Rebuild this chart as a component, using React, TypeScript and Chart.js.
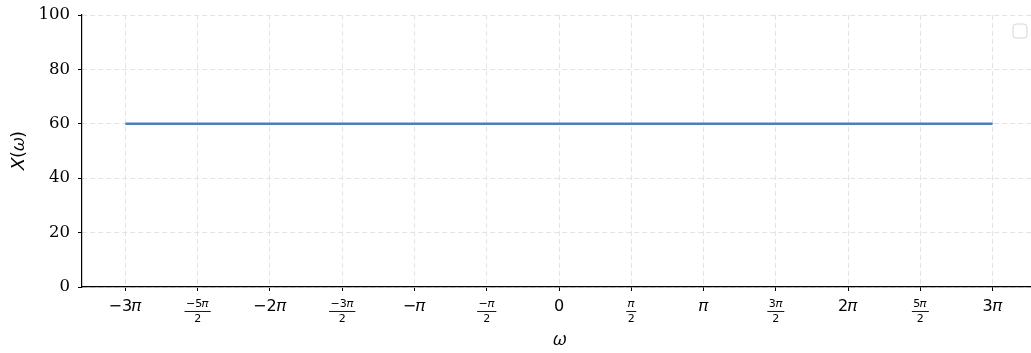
import { useEffect, useRef } from "react";
import { Chart, registerables } from "chart.js";

Chart.register(...registerables);

const PI = Math.PI;
// x tick positions, in multiples of pi/2
const halfSteps = [-6, -5, -4, -3, -2, -1, 0, 1, 2, 3, 4, 5, 6];
const tickLabels: (string | string[])[] = [
  "−3𝜋",
  ["−5𝜋", "2"],
  "−2𝜋",
  ["−3𝜋", "2"],
  "−𝜋",
  ["−𝜋", "2"],
  "0",
  ["𝜋", "2"],
  "𝜋",
  ["3𝜋", "2"],
  "2𝜋",
  ["5𝜋", "2"],
  "3𝜋",
];
const lineX = [-3 * PI, 3 * PI];
const lineY = [60, 60];
const yTicks = [0, 20, 40, 60, 80, 100];

const xMin = -3.3 * PI;
const xMax = 3.3 * PI;

const SANS = "'DejaVu Sans', sans-serif";
const SERIF = "'DejaVu Serif', serif";
const FRAC_SIZE = 11;

const extrasPlugin = {
  id: "extras",
  afterDraw(chart: any) {
    const ctx = chart.ctx as CanvasRenderingContext2D;
    const xs = chart.scales.x;
    ctx.save();
    // fraction bars
    ctx.font = `${FRAC_SIZE}px ${SANS}`;
    ctx.strokeStyle = "#000";
    ctx.lineWidth = 0.9;
    halfSteps.forEach((h, i) => {
      const lab = tickLabels[i];
      if (!Array.isArray(lab)) return;
      const px = xs.getPixelForValue((h * PI) / 2);
      const w = Math.max(ctx.measureText(lab[0]).width, ctx.measureText(lab[1]).width) + 3;
      ctx.beginPath();
      ctx.moveTo(px - w / 2, 311.5);
      ctx.lineTo(px + w / 2, 311.5);
      ctx.stroke();
    });
    // empty legend frame
    const x = 1013, y = 24, w = 14, h = 14, r = 3;
    ctx.beginPath();
    ctx.moveTo(x + r, y);
    ctx.lineTo(x + w - r, y);
    ctx.quadraticCurveTo(x + w, y, x + w, y + r);
    ctx.lineTo(x + w, y + h - r);
    ctx.quadraticCurveTo(x + w, y + h, x + w - r, y + h);
    ctx.lineTo(x + r, y + h);
    ctx.quadraticCurveTo(x, y + h, x, y + h - r);
    ctx.lineTo(x, y + r);
    ctx.quadraticCurveTo(x, y, x + r, y);
    ctx.closePath();
    ctx.fillStyle = "rgba(255,255,255,0.8)";
    ctx.fill();
    ctx.strokeStyle = "#d6d6d6";
    ctx.lineWidth = 1;
    ctx.stroke();
    ctx.restore();
  },
};

export default function App() {
  const ref = useRef<HTMLCanvasElement | null>(null);

  useEffect(() => {
    if (!ref.current) return;
    const chart = new Chart(ref.current, {
      type: "line",
      data: {
        datasets: [
          {
            label: "",
            data: lineX.map((x, i) => ({ x, y: lineY[i] })),
            borderColor: "#4a80b5",
            borderWidth: 2.6,
            pointRadius: 0,
            fill: false,
          },
        ],
      },
      options: {
        responsive: false,
        animation: false,
        layout: { padding: { top: 15, right: 0, left: 0, bottom: 0 } },
        plugins: { legend: { display: false }, tooltip: { enabled: false } },
        scales: {
          x: {
            type: "linear",
            min: xMin,
            max: xMax,
            afterBuildTicks: (scale: any) => {
              scale.ticks = halfSteps.map((h) => ({ value: (h * PI) / 2 }));
            },
            afterFit: (scale: any) => {
              scale.height = 66;
              scale.paddingLeft = 0;
              scale.paddingRight = 0;
            },
            ticks: {
              autoSkip: false,
              maxRotation: 0,
              padding: 6,
              color: "#000",
              callback: (_v: any, i: number) => tickLabels[i],
              font: (c: any) =>
                Array.isArray(tickLabels[c.index])
                  ? { family: SANS, size: FRAC_SIZE, lineHeight: "15px" }
                  : { family: SANS, size: 16, lineHeight: 1.2 },
            },
            grid: {
              color: "#e3e3e3",
              lineWidth: 1,
              drawTicks: true,
              tickLength: 4,
              tickColor: "#000",
              tickBorderDash: [],
              tickWidth: 1,
            },
            border: { display: true, color: "#000", width: 1.2, dash: [5, 3] },
            title: {
              display: true,
              text: "𝜔",
              color: "#000",
              font: { family: SANS, size: 18, lineHeight: 1.2 },
              padding: { top: 0, bottom: 2 },
            },
          },
          y: {
            type: "linear",
            min: 0,
            max: 100,
            afterBuildTicks: (scale: any) => {
              scale.ticks = yTicks.map((v) => ({ value: v }));
            },
            afterFit: (scale: any) => {
              scale.width = 82;
              scale.paddingTop = 0;
              scale.paddingBottom = 0;
            },
            ticks: {
              padding: 8,
              color: "#000",
              font: { family: SERIF, size: 16.5 },
            },
            grid: {
              color: "#e3e3e3",
              lineWidth: 1,
              drawTicks: true,
              tickLength: 4,
              tickColor: "#000",
              tickBorderDash: [],
              tickWidth: 1,
            },
            border: { display: true, color: "#000", width: 1.2, dash: [5, 3] },
            title: {
              display: true,
              text: "𝑋(𝜔)",
              color: "#000",
              font: { family: SANS, size: 18, lineHeight: 1.2 },
              padding: { top: 9, bottom: 0 },
            },
          },
        },
      },
      plugins: [extrasPlugin],
    });
    return () => chart.destroy();
  }, []);

  return (
    <div
      style={{
        position: "absolute",
        left: 0,
        top: 0,
        width: 1031,
        height: 353,
        overflow: "hidden",
        background: "#fff",
      }}
    >
      <canvas ref={ref} width={1036} height={353} style={{ width: 1036, height: 353, display: "block" }} />
    </div>
  );
}
